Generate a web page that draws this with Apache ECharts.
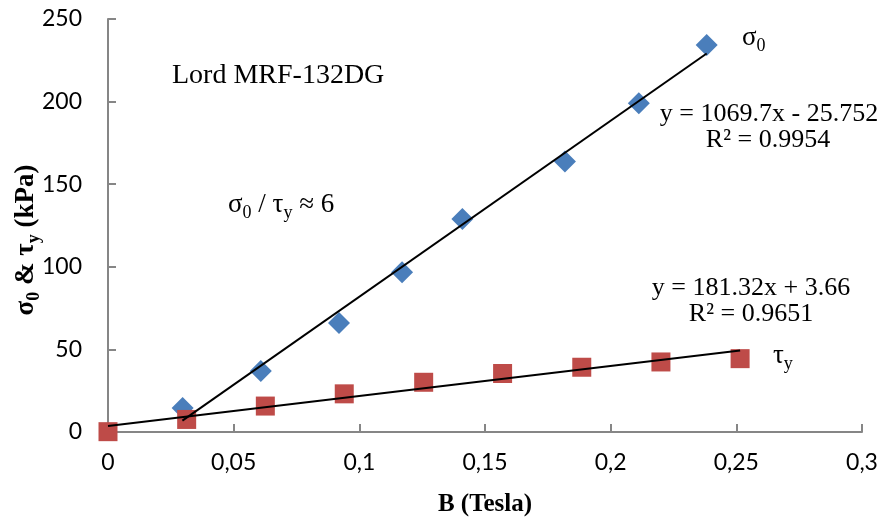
<!DOCTYPE html>
<html><head><meta charset="utf-8">
<script src="https://cdn.jsdelivr.net/npm/echarts@6/dist/echarts.min.js"></script>
<style>html,body{margin:0;padding:0;background:#fff}#c{width:881px;height:520px}</style>
</head><body><div id="c"></div>
<script>
// sigma_0 data (diamonds)
const sigmaB = [0.0297, 0.0608, 0.0919, 0.117, 0.141, 0.1818, 0.2112, 0.2382];
const sigmaVal = [14.6, 36.9, 66.0, 96.7, 128.9, 163.7, 199.0, 234.3];
// tau_y data (squares)
const tauB = [0, 0.0313, 0.0626, 0.094, 0.1256, 0.157, 0.1885, 0.22, 0.2515];
const tauVal = [0.2, 7.6, 15.7, 23.1, 30.1, 35.4, 39.2, 42.4, 44.4];
// trendline endpoints
const sigmaTrendB = [0.0296, 0.2382];
const sigmaTrendVal = [6.9, 229.1];
const tauTrendB = [0, 0.2515];
const tauTrendVal = [3.66, 49.3];
// axis ticks
const xTicks = [0, 0.05, 0.1, 0.15, 0.2, 0.25, 0.3];
const yTicks = [0, 50, 100, 150, 200, 250];

const zip = (a, b) => a.map((v, i) => [v, b[i]]);
const serif = '"Liberation Serif", "Times New Roman", serif';
const axisCol = '#868686';

const chart = echarts.init(document.getElementById('c'));
const subRich = (size) => ({
  b: {fontFamily: serif, fontSize: size, lineHeight: size + 8, verticalAlign: 'middle', fill: '#000', color: '#000'},
  s: {fontFamily: serif, fontSize: Math.round(size * 0.65), lineHeight: Math.round(size * 0.65), verticalAlign: 'bottom', fill: '#000', color: '#000'}
});
const subRichBold = (size) => ({
  b: {fontFamily: serif, fontWeight: 'bold', fontSize: size, lineHeight: size + 8, verticalAlign: 'middle', fill: '#000'},
  s: {fontFamily: serif, fontWeight: 'bold', fontSize: Math.round(size * 0.65), lineHeight: Math.round(size * 0.65), verticalAlign: 'bottom', fill: '#000'}
});
function txt(x, y, text, size, align, rich, rot) {
  return {
    type: 'text', x: x, y: y, rotation: rot || 0, z: 10,
    style: {text: text, fontFamily: serif, fontSize: size, fill: '#000', align: align || 'left', verticalAlign: 'middle', rich: rich}
  };
}

chart.setOption({
  animation: false,
  backgroundColor: '#fff',
  grid: {left: 108, right: 19, top: 19, bottom: 88, outerBoundsMode: 'none', containLabel: false},
  xAxis: {
    type: 'value', min: 0, max: 0.3, interval: 0.05,
    splitLine: {show: false},
    axisLine: {show: true, onZero: false, lineStyle: {color: axisCol, width: 2}},
    axisTick: {show: true, inside: true, length: 8, lineStyle: {color: axisCol, width: 2}},
    axisLabel: {
      fontFamily: 'Lato', fontSize: 23, color: '#000', margin: 19,
      formatter: v => { const t = xTicks.find(k => Math.abs(k - v) < 1e-9); return String(t !== undefined ? t : v).replace('.', ','); }
    }
  },
  yAxis: {
    type: 'value', min: 0, max: 250, interval: 50,
    splitLine: {show: false},
    axisLine: {show: true, onZero: false, lineStyle: {color: axisCol, width: 2}},
    axisTick: {show: true, inside: true, length: 8, lineStyle: {color: axisCol, width: 2}},
    axisLabel: {fontFamily: 'Lato', fontSize: 23, color: '#000', margin: 26,
      formatter: v => String(yTicks.find(k => k === v) ?? v)}
  },
  series: [
    {type: 'scatter', name: 'sigma', data: zip(sigmaB, sigmaVal), symbol: 'diamond', symbolSize: [22, 22],
      itemStyle: {color: '#4A7EBB', opacity: 1}, z: 2},
    {type: 'scatter', name: 'tau', data: zip(tauB, tauVal), symbol: 'rect', symbolSize: [19, 19],
      itemStyle: {color: '#BE4B48', opacity: 1}, z: 2},
    {type: 'line', data: zip(sigmaTrendB, sigmaTrendVal), symbol: 'none', lineStyle: {color: '#000', width: 2}, z: 3},
    {type: 'line', data: zip(tauTrendB, tauTrendVal), symbol: 'none', lineStyle: {color: '#000', width: 2}, z: 3}
  ],
  graphic: [
    txt(172, 76, 'Lord MRF-132DG', 28, 'left'),
    txt(228, 205, '{b|σ}{s|0}{b| / τ}{s|y}{b| ≈ 6}', 27, 'left', subRich(27)),
    txt(742, 38, '{b|σ}{s|0}', 27, 'left', subRich(27)),
    txt(773, 356, '{b|τ}{s|y}', 27, 'left', subRich(27)),
    txt(769, 114, 'y = 1069.7x - 25.752', 26, 'center'),
    txt(768, 140, 'R² = 0.9954', 26, 'center'),
    txt(751, 288, 'y = 181.32x + 3.66', 26, 'center'),
    txt(751, 314, 'R² = 0.9651', 26, 'center'),
    {type: 'text', x: 485, y: 505, z: 10, style: {text: 'B (Tesla)', fontFamily: serif, fontWeight: 'bold', fontSize: 25, fill: '#000', align: 'center', verticalAlign: 'middle'}},
    {type: 'text', x: 26, y: 240, rotation: Math.PI / 2, z: 10, style: {text: '{b|σ}{s|0}{b| & τ}{s|y}{b| (kPa)}', fontFamily: serif, fontWeight: 'bold', fontSize: 27, fill: '#000', align: 'center', verticalAlign: 'middle', rich: subRichBold(27)}}
  ]
});
</script></body></html>
